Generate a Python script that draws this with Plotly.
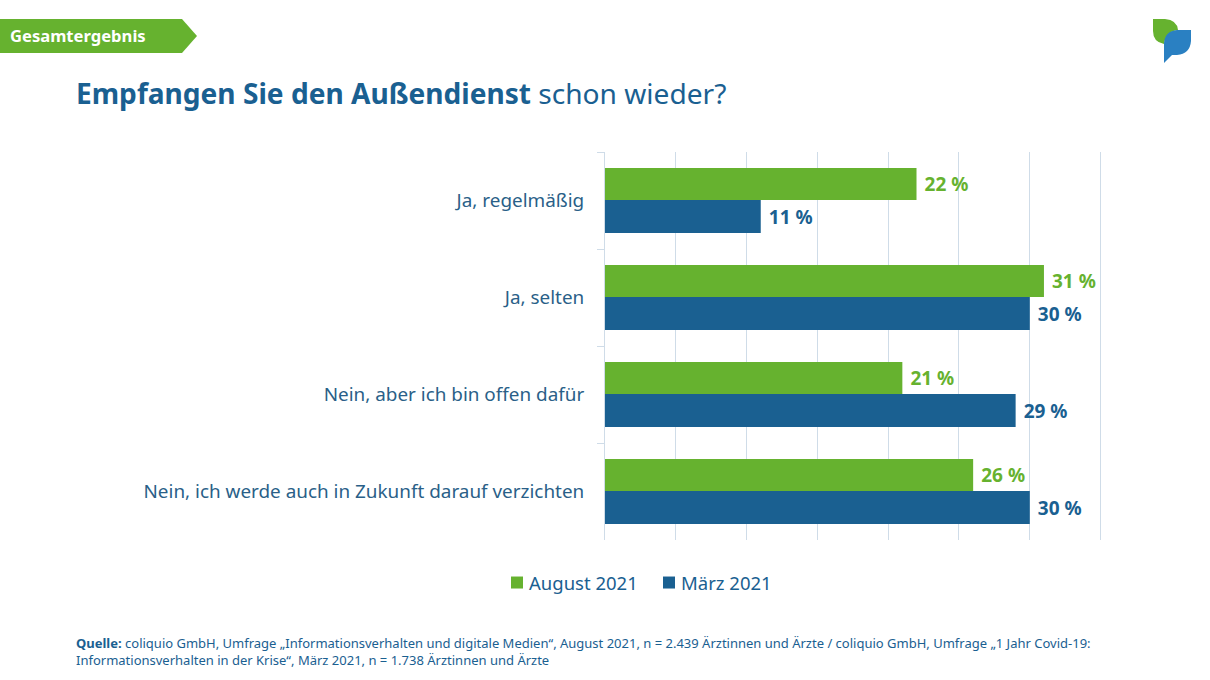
import plotly.graph_objects as go

categories = ["Ja, regelmäßig", "Ja, selten", "Nein, aber ich bin offen dafür",
              "Nein, ich werde auch in Zukunft darauf verzichten"]
august_2021 = [22, 31, 21, 26]
maerz_2021 = [11, 30, 29, 30]
series_names = ["August 2021", "März 2021"]

GREEN = "#66b22f"
BLUE = "#1a6091"
GRID = "#cfdce8"
FONT = "Noto Sans"
W, H = 1210, 680
L, R, T, B = 605, 108, 152, 140


def px(x):
    return (x - L) / (W - L - R)


def py(y):
    return 1 - (y - T) / (H - T - B)


fig = go.Figure()
for name, values, color, offset, width in [
    (series_names[0], august_2021, GREEN, -0.335, 0.33),
    (series_names[1], maerz_2021, BLUE, -0.005, 0.34),
]:
    fig.add_bar(
        name=name, y=categories, x=values, orientation="h", offset=offset, width=width,
        marker=dict(color=color, line=dict(width=0)),
        text=[f"\u2009\u200a{v} %" for v in values], textposition="outside", cliponaxis=False,
        textfont=dict(color=color, size=19, family=FONT, weight=700),
    )


def P(x, y):
    return f"{px(x):.5f},{py(y):.5f}"


tag = f"M{P(0,19)} L{P(182,19)} L{P(197,36)} L{P(182,53)} L{P(0,53)} Z"
leaf = (f"M{P(1153,19)} L{P(1165,19)} Q{P(1177,20)} {P(1178,30)} "
        f"Q{P(1166,31)} {P(1164,44)} Q{P(1153,42)} {P(1153,31)} Z")
bubble = (f"M{P(1177,30)} L{P(1191,30)} L{P(1191,41)} Q{P(1190,54)} {P(1177,55)} "
          f"L{P(1172,55)} L{P(1164,63)} L{P(1164,43)} Q{P(1165,31)} {P(1177,30)} Z")
shapes = [
    dict(type="path", path=tag, xref="paper", yref="paper", fillcolor=GREEN, line=dict(width=0), layer="below"),
    dict(type="path", path=leaf, xref="paper", yref="paper", fillcolor=GREEN, line=dict(width=0)),
    dict(type="path", path=bubble, xref="paper", yref="paper", fillcolor="#2a80c2", line=dict(width=0)),
]


def note(x, y, text, size, color, anchor="middle"):
    return dict(x=px(x), y=py(y), xref="paper", yref="paper", text=text, showarrow=False,
                xanchor="left", yanchor=anchor, align="left", borderpad=0, borderwidth=0,
                font=dict(family=FONT, size=size, color=color))


annotations = [
    note(10, 36, "<b>Gesamtergebnis</b>", 16.6, "#ffffff"),
    note(75.5, 93, "<b>Empfangen Sie den Außendienst</b> schon wieder?", 28.1, BLUE),
    note(76, 651,
         "<b>Quelle:</b> coliquio GmbH, Umfrage „Informationsverhalten und digitale Medien“, August 2021, "
         "n = 2.439 Ärztinnen und Ärzte / coliquio GmbH, Umfrage „1 Jahr Covid-19:<br>"
         "Informationsverhalten in der Krise“, März 2021, n = 1.738 Ärztinnen und Ärzte",
         13, BLUE),
]

fig.update_layout(
    width=W, height=H, autosize=False,
    margin=dict(l=L, r=R, t=T, b=B, pad=0),
    paper_bgcolor="#ffffff", plot_bgcolor="#ffffff",
    barmode="group", bargap=0.33, bargroupgap=0,
    font=dict(family=FONT, color=BLUE),
    showlegend=True,
    legend=dict(orientation="h", x=px(497), xanchor="left", y=py(583), yanchor="middle",
                font=dict(size=18.5, color=BLUE), itemwidth=30,
                entrywidth=107, entrywidthmode="pixels", traceorder="normal"),
    shapes=shapes, annotations=annotations,
    xaxis=dict(range=[0, 35.1], dtick=5, showticklabels=False, ticks="", showgrid=True,
               gridcolor=GRID, gridwidth=1, zeroline=False, showline=False, fixedrange=True),
    yaxis=dict(autorange="reversed", tickson="boundaries", ticks="outside", ticklen=7, tickcolor=GRID,
               tickwidth=1, showline=True, linecolor=GRID, linewidth=1, showgrid=False,
               ticklabelstandoff=16, tickfont=dict(size=18.9, color="#2a5f88", family=FONT)),
)

post = """
document.body.style.margin = '0';
function tightenLegend() {
  document.querySelectorAll('.legendtext').forEach(function (t) {
    if (!t.dataset.moved) {
      t.setAttribute('x', parseFloat(t.getAttribute('x')) - 8);
      t.dataset.moved = '1';
    }
  });
}
tightenLegend();
setTimeout(tightenLegend, 50);
"""
fig.write_html("out.html", post_script=post, config=dict(displayModeBar=False))
